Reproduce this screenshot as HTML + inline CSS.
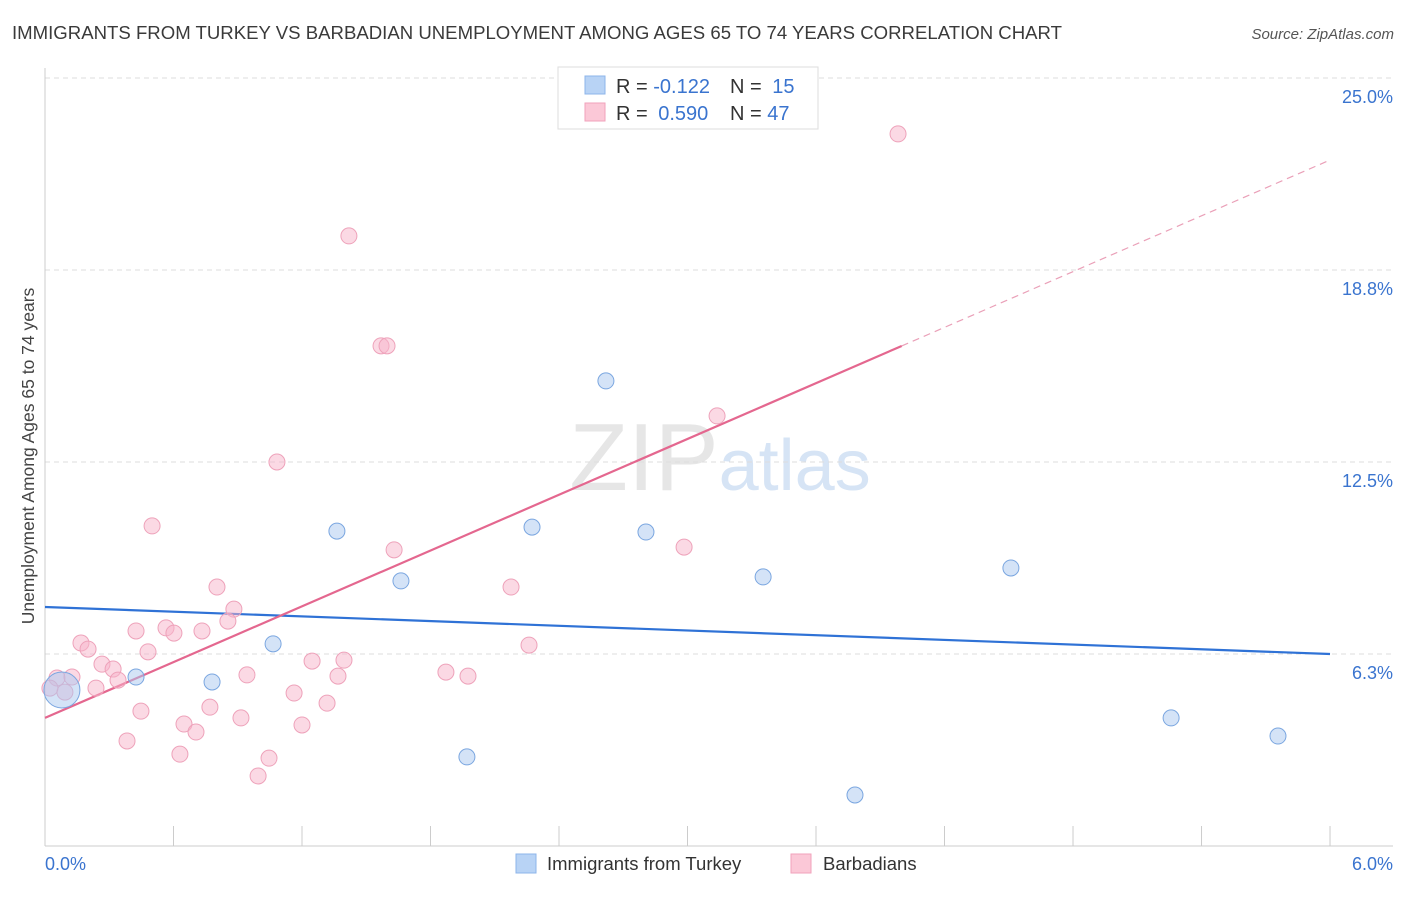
<!DOCTYPE html>
<html><head><meta charset="utf-8"><style>
body{margin:0;background:#fff;font-family:"Liberation Sans",sans-serif;}
svg text{font-family:"Liberation Sans",sans-serif;}
</style></head><body>
<svg id="chart" width="1406" height="892" xmlns="http://www.w3.org/2000/svg">
<text x="12" y="39" font-size="18" fill="#3a3a3a" textLength="1050" lengthAdjust="spacingAndGlyphs">IMMIGRANTS FROM TURKEY VS BARBADIAN UNEMPLOYMENT AMONG AGES 65 TO 74 YEARS CORRELATION CHART</text>
<text x="1394" y="39" font-size="15" fill="#555" font-style="italic" text-anchor="end">Source: ZipAtlas.com</text>
<text x="720" y="490" font-size="96" text-anchor="middle" fill="#e6e6e6" font-family="Liberation Serif"><tspan>ZIP</tspan><tspan fill="#d6e4f5" font-family="Liberation Sans" font-size="72">atlas</tspan></text>
<text transform="translate(34,456) rotate(-90)" font-size="17.5" fill="#444" text-anchor="middle">Unemployment Among Ages 65 to 74 years</text>
<g id="grid"></g><g id="axes"></g><g id="trends"></g><g id="pts"></g>
<g>
<rect x="558" y="67" width="260" height="62" fill="#fff" stroke="#ddd"/>
<rect x="585" y="76" width="20" height="18" fill="#b8d3f5" stroke="#8db5ea"/>
<rect x="585" y="103" width="20" height="18" fill="#fbc8d7" stroke="#f0a2bb"/>
<text x="616" y="93" font-size="20" fill="#333">R = <tspan fill="#3a74cf">-0.122</tspan></text>
<text x="730" y="93" font-size="20" fill="#333">N = <tspan fill="#3a74cf" dx="5">15</tspan></text>
<text x="616" y="120" font-size="20" fill="#333">R = <tspan fill="#3a74cf" dx="5">0.590</tspan></text>
<text x="730" y="120" font-size="20" fill="#333">N = <tspan fill="#3a74cf">47</tspan></text>
</g>
<g>
<rect x="516" y="854" width="20" height="19" fill="#b8d3f5" stroke="#8db5ea"/>
<text x="547" y="870" font-size="18.5" fill="#333">Immigrants from Turkey</text>
<rect x="791" y="854" width="20" height="19" fill="#fbc8d7" stroke="#f0a2bb"/>
<text x="823" y="870" font-size="18.5" fill="#333">Barbadians</text>
</g>
</svg>
<script>
const yTicks=[6.25,12.5,18.75,25.0];
const yTickLabels=["6.3%","12.5%","18.8%","25.0%"];
const xTickLabels=["0.0%","6.0%"];
const blueX=[2.619,1.363,2.274,2.806,1.662,3.353,4.510,1.065,0.425,0.780,0.079,1.970,5.258,5.757,3.782];
const blueY=[15.14,10.25,10.38,10.22,8.63,8.76,9.05,6.58,5.50,5.34,5.08,2.90,4.17,3.58,1.66];
const pinkX=[3.983,1.419,1.569,1.597,3.138,1.083,0.500,1.630,2.984,2.176,0.803,0.882,0.854,0.425,0.565,0.602,0.733,0.168,0.201,0.481,2.260,1.396,1.247,0.266,0.318,0.943,1.872,1.975,1.368,0.056,0.126,0.341,0.238,0.093,1.163,0.023,1.317,0.770,0.448,0.649,0.915,1.200,0.705,0.383,0.630,1.046,0.995];
const pinkY=[23.18,19.86,16.28,16.28,14.00,12.50,10.42,9.64,9.73,8.43,8.43,7.71,7.32,7.00,7.10,6.93,7.00,6.61,6.41,6.32,6.54,6.05,6.02,5.92,5.76,5.57,5.66,5.53,5.53,5.47,5.50,5.40,5.14,5.01,4.98,5.14,4.65,4.52,4.39,3.97,4.17,3.94,3.71,3.42,2.99,2.86,2.28];
const blueTrend=[7.78,6.25];
const pinkTrend=[4.17,22.33];
const pinkSolidEnd=4.0;
const X=v=>45+v*214.17, Y=v=>846-v*30.72;
const NS="http://www.w3.org/2000/svg";
function mk(p,t,a){const e=document.createElementNS(NS,t);for(const k in a)e.setAttribute(k,a[k]);p.appendChild(e);return e;}
const grid=document.getElementById('grid'),axes=document.getElementById('axes'),tr=document.getElementById('trends'),pts=document.getElementById('pts');
yTicks.forEach((t,i)=>{
 const l=mk(grid,'line',{x1:45,x2:1393,y1:Y(t),y2:Y(t),stroke:'#ddd','stroke-dasharray':'5,4'});
 
 
 const tx=mk(grid,'text',{x:1393,y:Y(t)+25,'font-size':18,fill:'#3a74cf','text-anchor':'end'});
 tx.textContent=yTickLabels[i];
 
 
});
const ax=mk(axes,'line',{x1:45,x2:45,y1:68,y2:846,stroke:'#ccc'});


const bx=mk(axes,'line',{x1:45,x2:1393,y1:846,y2:846,stroke:'#ccc'});


for(let i=0;i<=10;i++){
 const tk=mk(axes,'line',{x1:X(i*0.6),x2:X(i*0.6),y1:826,y2:846,stroke:'#ccc'});
 
 
}
[[0,'start',45],[1,'end',1393]].forEach(([i,a,x])=>{
 const t=mk(axes,'text',{x:x,y:870,'font-size':18,fill:'#3a74cf','text-anchor':a});
 t.textContent=xTickLabels[i];
 
 
});
const bl=mk(tr,'line',{x1:X(0),y1:Y(blueTrend[0]),x2:X(6),y2:Y(blueTrend[1]),stroke:'#2f72d6','stroke-width':2.2});


const pAt=x=>pinkTrend[0]+(pinkTrend[1]-pinkTrend[0])*x/6;
const pl=mk(tr,'line',{x1:X(0),y1:Y(pAt(0)),x2:X(pinkSolidEnd),y2:Y(pAt(pinkSolidEnd)),stroke:'#e4678f','stroke-width':2.2});


const pd=mk(tr,'line',{x1:X(pinkSolidEnd),y1:Y(pAt(pinkSolidEnd)),x2:X(6),y2:Y(pAt(6)),stroke:'#eaa0b8','stroke-width':1.2,'stroke-dasharray':'7,5'});


pinkX.forEach((x,i)=>{
 const c=mk(pts,'circle',{cx:X(x),cy:Y(pinkY[i]),r:8,fill:'rgba(248,180,202,0.5)',stroke:'#eea2ba','stroke-width':1});
 
 
});
blueX.forEach((x,i)=>{
 const c=mk(pts,'circle',{cx:X(x),cy:Y(blueY[i]),r:(i==10?18:8),fill:'rgba(170,200,240,0.5)',stroke:'#7aa6e0','stroke-width':1});
 
 
});
</script>
</body></html>
